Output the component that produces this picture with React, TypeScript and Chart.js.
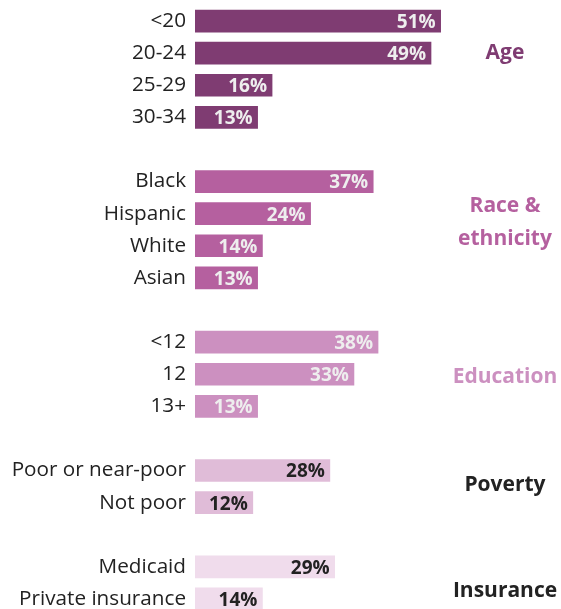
import React, { useEffect, useRef } from "react";
import { Chart, registerables } from "chart.js";

Chart.register(...registerables);

const categories = [
  "<20", "20-24", "25-29", "30-34", "",
  "Black", "Hispanic", "White", "Asian", "",
  "<12", "12", "13+", "",
  "Poor or near-poor", "Not poor", "",
  "Medicaid", "Private insurance",
];
const values: (number | null)[] = [
  51, 49, 16, 13, null,
  37, 24, 14, 13, null,
  38, 33, 13, null,
  28, 12, null,
  29, 14,
];
// group index of each row (-1 = spacer)
const rowGroup = [0, 0, 0, 0, -1, 1, 1, 1, 1, -1, 2, 2, 2, -1, 3, 3, -1, 4, 4];
const groupNames = [["Age"], ["Race &", "ethnicity"], ["Education"], ["Poverty"], ["Insurance"]];
const groupRowPos = [1, 6.28, 11.09, 14.45, 17.76];
const groupBarColors = ["#7F3C72", "#B5609F", "#CC90C0", "#E0BCD8", "#F0DCEC"];
const groupTitleColors = ["#7F3C72", "#B5609F", "#CC90C0", "#222222", "#222222"];
const groupValueColors = ["#EEEEEE", "#EEEEEE", "#EEEEEE", "#222222", "#222222"];

const FONT = "'Open Sans', sans-serif";

export default function App() {
  const ref = useRef<HTMLCanvasElement | null>(null);
  useEffect(() => {
    if (!ref.current) return;
    const labelPlugin = {
      id: "labels",
      afterDatasetsDraw(chart: any) {
        const ctx = chart.ctx;
        const meta = chart.getDatasetMeta(0);
        ctx.save();
        ctx.font = `bold 19px ${FONT}`;
        ctx.textAlign = "right";
        ctx.textBaseline = "middle";
        meta.data.forEach((bar: any, i: number) => {
          const v = values[i];
          if (v == null) return;
          ctx.fillStyle = groupValueColors[rowGroup[i]];
          ctx.fillText(`${v}%`, bar.x - 5, bar.y + 1.5);
        });
        const ys = chart.scales.y;
        ctx.font = `bold 21px ${FONT}`;
        ctx.textAlign = "center";
        groupNames.forEach((lines, g) => {
          const yc = ys.getPixelForValue(groupRowPos[g]);
          ctx.fillStyle = groupTitleColors[g];
          const lh = 33;
          lines.forEach((t, k) => {
            ctx.fillText(t, 505, yc + (k - (lines.length - 1) / 2) * lh);
          });
        });
        ctx.restore();
      },
    };
    const chart = new Chart(ref.current, {
      type: "bar",
      data: {
        labels: categories,
        datasets: [
          {
            data: values as any,
            backgroundColor: rowGroup.map((g) => (g >= 0 ? groupBarColors[g] : "transparent")),
            barThickness: 22,
          },
        ],
      },
      options: {
        indexAxis: "y",
        animation: false,
        responsive: false,
        layout: { padding: { top: 5, right: 77, bottom: 0, left: 0 } },
        plugins: { legend: { display: false }, tooltip: { enabled: false } },
        scales: {
          x: { display: false, min: 0, max: 60 },
          y: {
            grid: { display: false, drawTicks: false, tickLength: 0 },
            border: { display: false },
            ticks: {
              color: "#222222",
              font: { family: FONT, size: 20.7 },
              padding: 9,
              autoSkip: false,
            },
            afterFit(scale: any) {
              scale.width = 195;
              scale.paddingTop = 0;
              scale.paddingBottom = 0;
            },
          },
        },
      },
      plugins: [labelPlugin],
    });
    return () => chart.destroy();
  }, []);
  return (
    <div style={{ position: "fixed", left: 0, top: 0, width: 561, height: 609, overflow: "hidden", background: "#fff" }}>
      <canvas ref={ref} width={561} height={615} style={{ display: "block" }} />
    </div>
  );
}
